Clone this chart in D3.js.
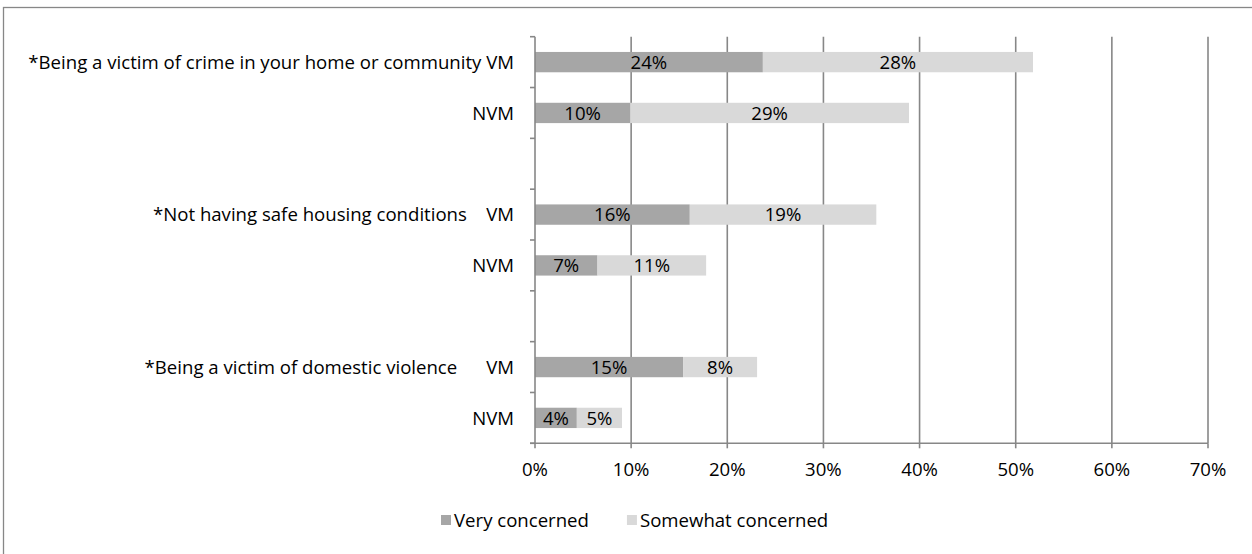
<!DOCTYPE html>
<html>
<head>
<meta charset="utf-8">
<script src="https://cdn.jsdelivr.net/npm/d3@7"></script>
<style>
  body { margin: 0; background: #fff; }
  svg { display: block; }
  text { font-family: "Open Sans", sans-serif; fill: #000; white-space: pre; }
</style>
</head>
<body>
<svg id="chart" width="1252" height="554"></svg>
<script>
// Row labels (top to bottom); empty strings are spacer rows between topics
const rowLabels = [
  "*Being a victim of crime in your home or community VM",
  "NVM",
  "",
  "*Not having safe housing conditions    VM",
  "NVM",
  "",
  "*Being a victim of domestic violence      VM",
  "NVM"
];
// Percent of respondents per row (null for spacer rows)
const veryConcerned      = [23.7, 9.9, null, 16.1, 6.5, null, 15.4, 4.35];
const somewhatConcerned  = [28.1, 29.0, null, 19.4, 11.3, null, 7.7, 4.7];
const seriesNames  = ["Very concerned", "Somewhat concerned"];
const seriesColors = ["#a6a6a6", "#d9d9d9"];
const xTicks = [0, 10, 20, 30, 40, 50, 60, 70];

const svg = d3.select("#chart");
const fontSize = 18.6;
const gridColor = "#878787";
const gridWidth = 1.6;

// outer chart frame
svg.append("rect")
  .attr("x", 3.5).attr("y", 7.5)
  .attr("width", 1270).attr("height", 570)
  .attr("fill", "none").attr("stroke", "#878787").attr("stroke-width", 1.3);

const plot = { left: 535, right: 1208, top: 36.7, bottom: 443.3 };

const x = d3.scaleLinear().domain([0, 70]).range([plot.left, plot.right]);
const rowKeys = rowLabels.map((d, i) => i);
const y = d3.scaleBand().domain(rowKeys)
  .range([plot.top, plot.bottom])
  .paddingInner(0.6).paddingOuter(0.3);
const step = y.step();

// vertical gridlines
svg.append("g").selectAll("line")
  .data(xTicks.filter(t => t > 0))
  .join("line")
  .attr("x1", d => x(d)).attr("x2", d => x(d))
  .attr("y1", plot.top).attr("y2", plot.bottom)
  .attr("stroke", gridColor).attr("stroke-width", gridWidth);

// stacked bars
const rows = rowKeys.map(i => ({ i, v: [veryConcerned[i], somewhatConcerned[i]] }))
  .filter(r => r.v[0] !== null);

const segs = [];
rows.forEach(r => {
  let acc = 0;
  r.v.forEach((val, s) => {
    segs.push({ row: r.i, s, x0: acc, x1: acc + val, val });
    acc += val;
  });
});

svg.append("g").selectAll("rect")
  .data(segs)
  .join("rect")
  .attr("x", d => x(d.x0))
  .attr("width", d => x(d.x1) - x(d.x0))
  .attr("y", d => y(d.row))
  .attr("height", y.bandwidth())
  .attr("fill", d => seriesColors[d.s]);

// value labels
const fmt = d3.format(".0f");
svg.append("g").selectAll("text")
  .data(segs)
  .join("text")
  .attr("x", d => (x(d.x0) + x(d.x1)) / 2)
  .attr("y", d => y(d.row) + y.bandwidth() / 2)
  .attr("dy", "0.36em")
  .attr("text-anchor", "middle")
  .style("font-size", fontSize + "px")
  .text(d => fmt(d.val) + "%");

// category axis
const yAxis = svg.append("g");
yAxis.append("line")
  .attr("x1", plot.left).attr("x2", plot.left)
  .attr("y1", plot.top).attr("y2", plot.bottom)
  .attr("stroke", gridColor).attr("stroke-width", gridWidth);
yAxis.selectAll("line.tick")
  .data(d3.range(rowKeys.length + 1))
  .join("line").attr("class", "tick")
  .attr("x1", plot.left - 5).attr("x2", plot.left)
  .attr("y1", k => plot.top + k * step).attr("y2", k => plot.top + k * step)
  .attr("stroke", gridColor).attr("stroke-width", gridWidth);
yAxis.selectAll("text")
  .data(rowKeys.filter(i => rowLabels[i] !== ""))
  .join("text")
  .attr("x", 514)
  .attr("y", i => y(i) + y.bandwidth() / 2)
  .attr("dy", "0.36em")
  .attr("text-anchor", "end")
  .attr("xml:space", "preserve")
  .style("font-size", fontSize + "px")
  .text(i => rowLabels[i]);

// value axis
const xAxis = svg.append("g");
xAxis.append("line")
  .attr("x1", plot.left - 5).attr("x2", plot.right)
  .attr("y1", plot.bottom).attr("y2", plot.bottom)
  .attr("stroke", gridColor).attr("stroke-width", gridWidth);
xAxis.selectAll("line.tick")
  .data(xTicks)
  .join("line").attr("class", "tick")
  .attr("x1", d => x(d)).attr("x2", d => x(d))
  .attr("y1", plot.bottom).attr("y2", plot.bottom + 5)
  .attr("stroke", gridColor).attr("stroke-width", gridWidth);
xAxis.selectAll("text")
  .data(xTicks)
  .join("text")
  .attr("x", d => x(d))
  .attr("y", 469)
  .attr("dy", "0.36em")
  .attr("text-anchor", "middle")
  .style("font-size", fontSize + "px")
  .text(d => d + "%");

// legend
const legend = svg.append("g");
let lx = 441;
seriesNames.forEach((name, s) => {
  legend.append("rect")
    .attr("x", lx).attr("y", 515)
    .attr("width", 10).attr("height", 10)
    .attr("fill", seriesColors[s]);
  const t = legend.append("text")
    .attr("x", lx + 13).attr("y", 520)
    .attr("dy", "0.36em")
    .style("font-size", fontSize + "px")
    .text(name);
  lx += 13 + t.node().getComputedTextLength() + 38;
});
</script>
</body>
</html>
